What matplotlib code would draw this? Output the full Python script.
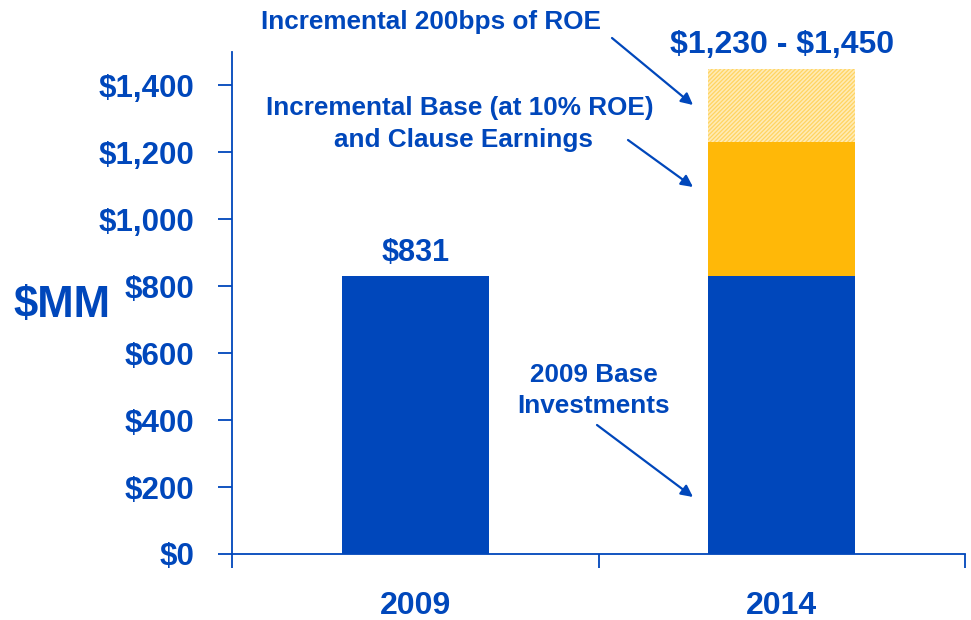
import matplotlib
matplotlib.use("Agg")
import matplotlib.pyplot as plt
import numpy as np

plt.rcParams['font.family'] = ['Liberation Sans', 'DejaVu Sans']
plt.rcParams['font.weight'] = 'bold'
plt.rcParams['hatch.linewidth'] = 1.2

categories = ["2009", "2014"]
base_values = [831, 831]
incr_base_values = [0, 399]
incr_roe_values = [0, 220]
bar_labels = ["\\$831", "\\$1,230 - \\$1,450"]
label_sizes = [22, 23]
yticks = [0, 200, 400, 600, 800, 1000, 1200, 1400]
ytick_labels = ["\\$0", "\\$200", "\\$400", "\\$600", "\\$800", "\\$1,000", "\\$1,200", "\\$1,400"]

BLUE = "#0047BB"
ORANGE = "#FFB808"
LIGHT = "#FFD462"

W, H = 971, 620
fig = plt.figure(figsize=(W / 100, H / 100), dpi=100)
ax = fig.add_axes([232 / W, 1 - 554 / H, (965 - 232) / W, (554 - 52) / H])

x = np.arange(len(categories))
width = 0.4
ax.bar(x, base_values, width, color=BLUE, zorder=2)
ax.bar(x, incr_base_values, width, bottom=base_values, color=ORANGE, zorder=2)
bottoms2 = np.array(base_values) + np.array(incr_base_values)
ax.bar(x[1:], incr_roe_values[1:], width, bottom=bottoms2[1:], color=LIGHT,
       edgecolor="#FFEBB5", hatch="////////", linewidth=0, zorder=2)

ax.set_xlim(-0.5, 1.5)
ax.set_ylim(0, 1500)
ax.set_yticks(yticks)
ax.set_yticklabels(ytick_labels, fontsize=22.5, fontweight='bold', color=BLUE)
ax.set_xticks([-0.5, 0.5, 1.5], minor=False)
ax.set_xticklabels([])
ax.set_xticks(x, minor=True)
ax.set_xticklabels(categories, minor=True, fontsize=23, fontweight='bold', color=BLUE)
ax.tick_params(axis='x', which='minor', length=0, pad=27)
ax.tick_params(axis='x', which='major', length=10, width=1.3, color=BLUE, direction='out')
ax.tick_params(axis='y', length=10, width=1.3, color=BLUE, direction='out', pad=17)

for s in ['top', 'right']:
    ax.spines[s].set_visible(False)
for s in ['left', 'bottom']:
    ax.spines[s].set_color(BLUE)
    ax.spines[s].set_linewidth(1.3)

# value labels
tops = np.array(base_values) + np.array(incr_base_values) + np.array(incr_roe_values)
for xi, t, lab, fs in zip(x, tops, bar_labels, label_sizes):
    ax.text(xi, t + 25, lab, ha='center', va='bottom', fontsize=fs,
            fontweight='bold', color=BLUE)

fig.text(62 / W, 1 - 306 / H, "\\$MM", ha='center', va='center', fontsize=31.5,
         fontweight='bold', color=BLUE)

def fp(px, py):
    return (px / W, 1 - py / H)

ann_kw = dict(xycoords='figure fraction', textcoords='figure fraction',
              arrowprops=dict(arrowstyle='-|>,head_length=0.7,head_width=0.35',
                              color=BLUE, lw=1.6, shrinkA=0, shrinkB=0))
ax.annotate("", xy=fp(693, 105), xytext=fp(612, 38), **ann_kw)
ax.annotate("", xy=fp(693, 187), xytext=fp(628, 140), **ann_kw)
ax.annotate("", xy=fp(693, 497), xytext=fp(597, 425), **ann_kw)

tkw = dict(ha='center', va='center', fontsize=18.8, fontweight='bold', color=BLUE)
fig.text(*fp(431, 22), "Incremental 200bps of ROE", **tkw)
fig.text(*fp(460, 108), "Incremental Base (at 10% ROE)", **tkw)
fig.text(*fp(463, 140), "and Clause Earnings", **tkw)
fig.text(*fp(594, 375), "2009 Base", **tkw)
fig.text(*fp(594, 406), "Investments", **tkw)

fig.savefig("out.png", dpi=100)
